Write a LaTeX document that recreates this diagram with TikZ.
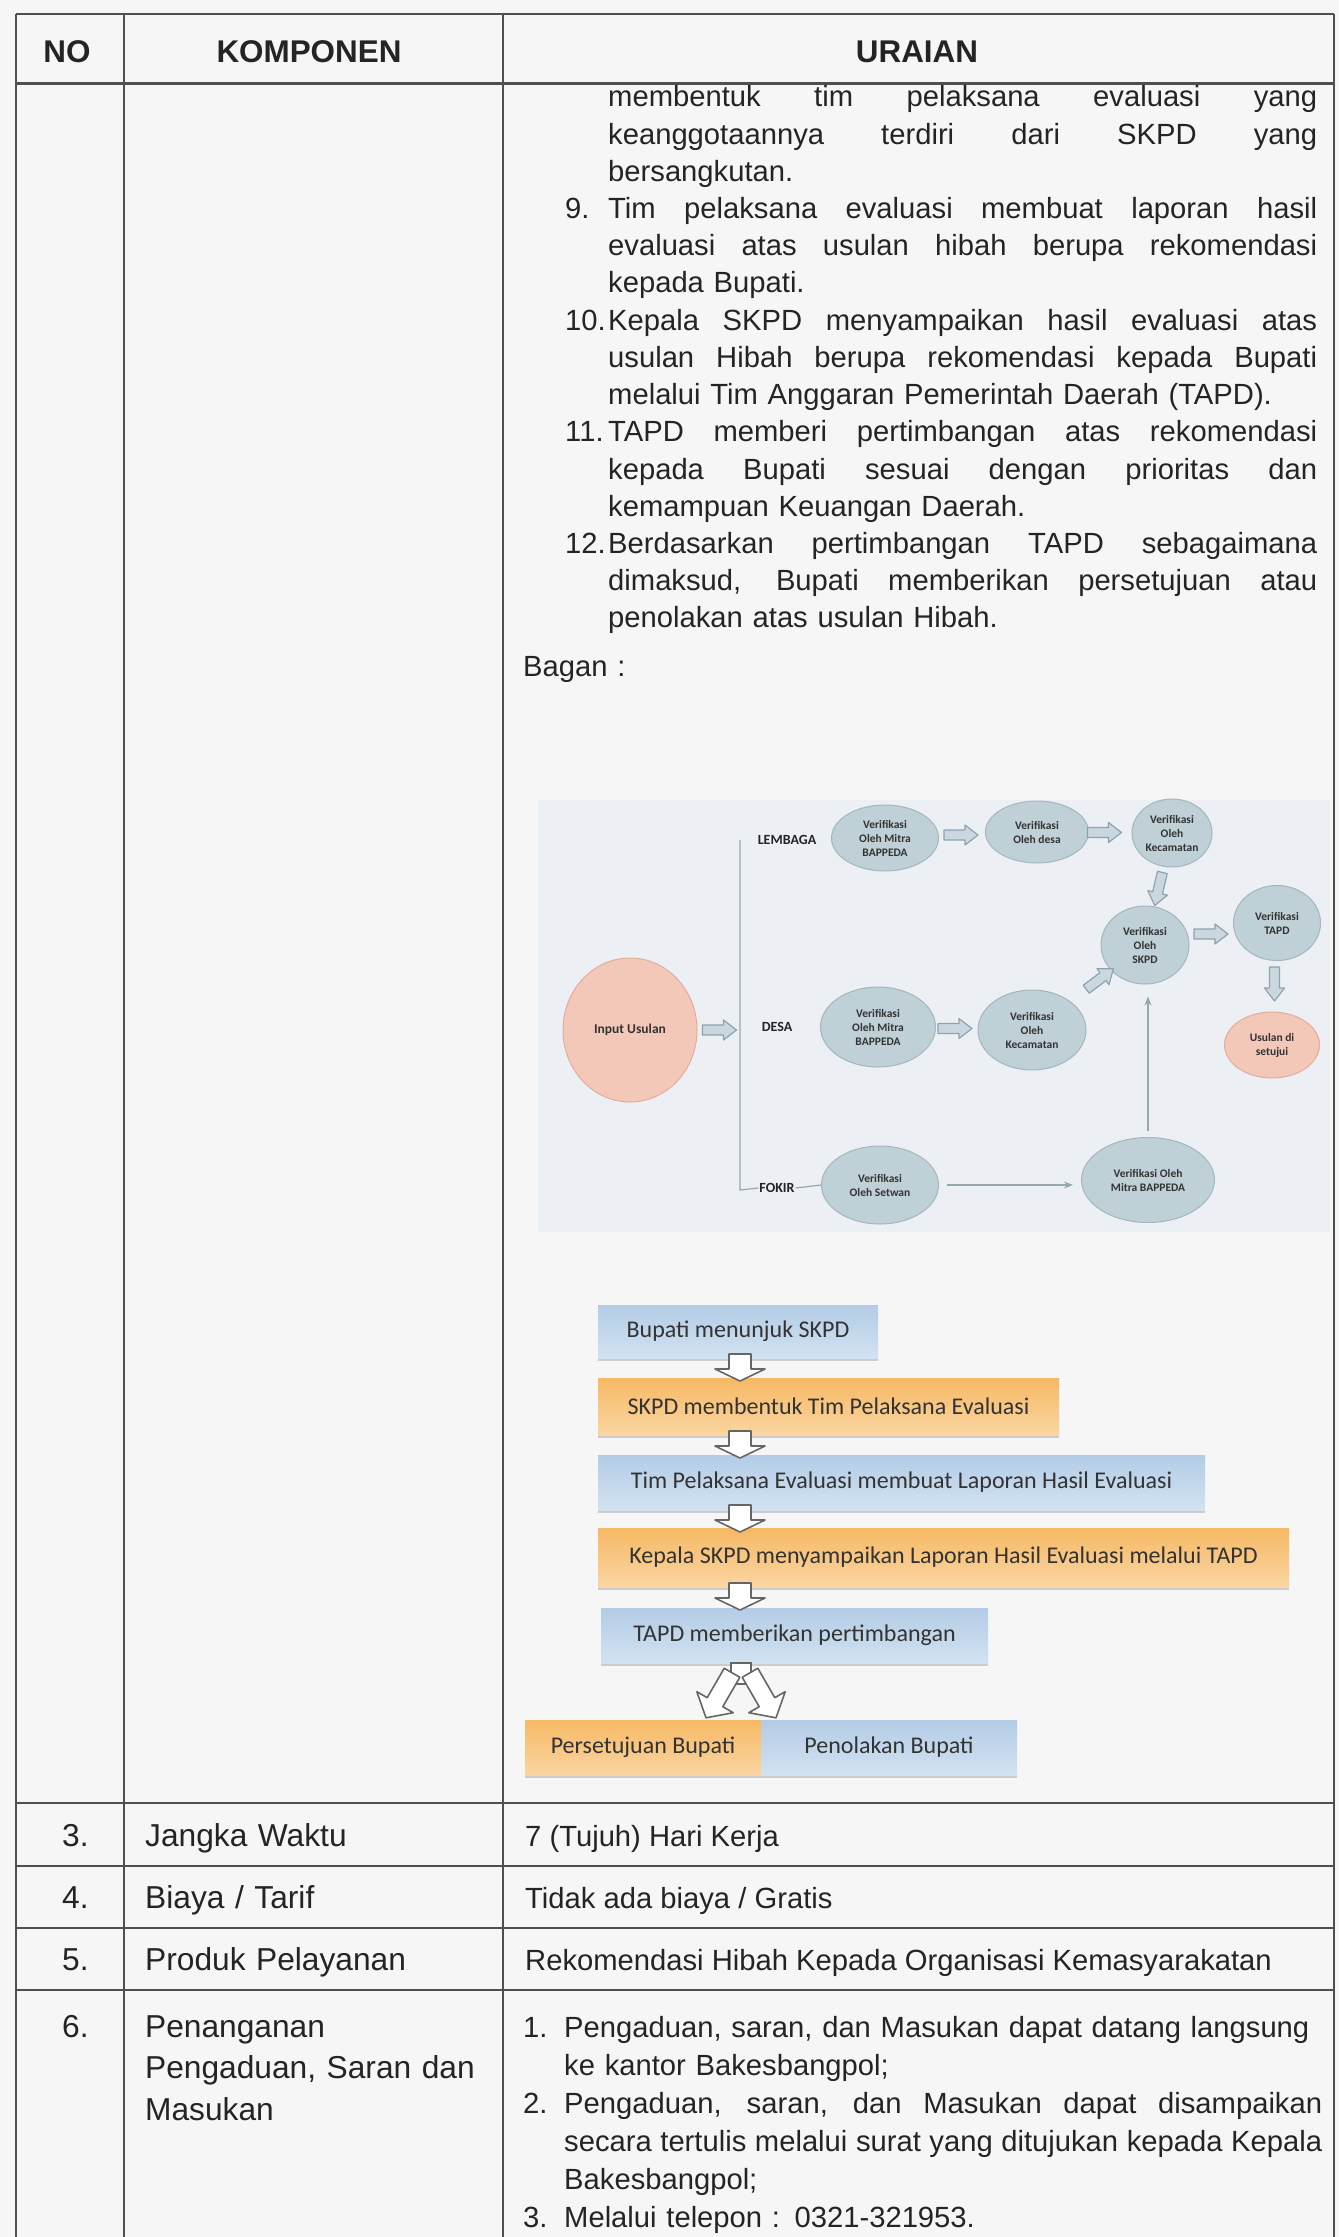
\documentclass[tikz,border=0pt]{standalone}
\usepackage{fontspec}
\setmainfont{Liberation Sans}
\newfontfamily\calibrifont{Carlito}
\usetikzlibrary{shapes.geometric,arrows.meta,calc,shadows}

\definecolor{paper}{HTML}{F6F6F7}
\definecolor{ink}{HTML}{242424}
\definecolor{rulegray}{HTML}{4F4F4F}
\definecolor{chartbg}{HTML}{ECEFF3}
\definecolor{verifill}{HTML}{BFD0D6}
\definecolor{veriline}{HTML}{A3B7BE}
\definecolor{salmon}{HTML}{F4C8B8}
\definecolor{salmonline}{HTML}{E2AE9C}
\definecolor{fatfill}{HTML}{CAD7DE}
\definecolor{fatline}{HTML}{8DA3AF}
\definecolor{wire}{HTML}{98A6AE}
\definecolor{bluetop}{HTML}{B3CCE6}
\definecolor{bluebot}{HTML}{D2E2F1}
\definecolor{orangetop}{HTML}{F6B964}
\definecolor{orangebot}{HTML}{FAD5A2}
\definecolor{boxink}{HTML}{333333}

\newcommand{\hdrfont}{\bfseries\fontsize{31.4}{36}\selectfont}
\newcommand{\leftfont}{\fontsize{31.7}{41.5}\selectfont}
\newcommand{\bodyfont}{\fontsize{29.2}{37.2}\selectfont}
\newcommand{\listfont}{\fontsize{29.2}{38}\selectfont}
\newcommand{\boxtext}{\calibrifont\fontsize{24}{28}\selectfont}
\newcommand{\charttext}{\calibrifont\bfseries\fontsize{11.5}{14}\selectfont}
\newcommand{\jline}[2]{{\spaceskip=0pt\xspaceskip=0pt\makebox[#1][s]{#2}}}

\begin{document}
\begin{tikzpicture}[
  x=1pt,
  y=-1pt,
  rule/.style={draw=rulegray, line width=2.4pt},
  hdr/.style={anchor=base, inner sep=0pt, font=\hdrfont, text=ink},
  para/.style={anchor=base west, inner sep=0pt, align=left, text width=780pt, font=\bodyfont, text=ink},
  list/.style={para, font=\listfont},
  num/.style={anchor=base west, inner sep=0pt, font=\bodyfont, text=ink},
  leftcol/.style={anchor=base west, inner sep=0pt, align=left, text width=350pt, font=\leftfont, text=ink},
  verif/.style={ellipse, fill=verifill, draw=veriline, line width=1pt, inner sep=0pt, align=center, font=\charttext, text=boxink},
  salmonball/.style={verif, fill=salmon, draw=salmonline},
  lbl/.style={inner sep=1pt, font=\calibrifont\bfseries\fontsize{14}{16}\selectfont, text=ink},
  wirearrow/.style={draw=wire, line width=1.4pt, -{Stealth[length=9pt, width=7pt]}},
  stepbox/.style={rectangle, inner sep=0pt, minimum height=55pt, font=\boxtext, text=boxink,
    drop shadow={shadow xshift=0pt, shadow yshift=-3pt, opacity=0.35}},
  bluebox/.style={stepbox, top color=bluetop, bottom color=bluebot},
  orangebox/.style={stepbox, top color=orangetop, bottom color=orangebot},
  fatarrow/.pic={\draw[draw=fatline, fill=fatfill, line width=1.2pt, line join=round]
    (-17,-5) -- (4,-5) -- (4,-10) -- (17,0) -- (4,10) -- (4,5) -- (-17,5) -- cycle;},
  hollowarrow/.pic={\draw[draw=gray!80!black, fill=white, line width=1.6pt, line join=round]
    (-14,-11) -- (1,-11) -- (1,-25) -- (13,0) -- (1,25) -- (1,11) -- (-14,11) -- cycle;},
  splitarrow/.pic={\draw[draw=gray!80!black, fill=white, line width=1.6pt, line join=round]
    (-28,-9) -- (6,-9) -- (6,-21) -- (24,0) -- (6,21) -- (6,9) -- (-28,9) -- cycle;}
]
  \useasboundingbox (0,0) rectangle (1339,2237);
  \fill[paper] (0,0) rectangle (1339,2237);

  % table frame
  \draw[rule] (16,14) -- (1334,14);
  \draw[rule, line width=3pt] (16,84) -- (1334,84);
  \foreach \yy in {1803,1866,1928,1990}
    \draw[rule] (16,\yy) -- (1334,\yy);
  \foreach \xx in {16,124,503,1334}
    \draw[rule, line width=2.2pt] (\xx,14) -- (\xx,2237);

  % header
  \node[hdr] (hNo) at (67,63) {NO};
  \node[hdr] (hKomponen) at (309,63) {KOMPONEN};
  \node[hdr] (hUraian) at (917,63) {URAIAN};

  % steps 8 - 12
  \node[para] (t8) at (608,107) {\jline{709pt}{membentuk tim pelaksana evaluasi yang}\\\jline{709pt}{keanggotaannya terdiri dari SKPD yang}\\bersangkutan.};
  \node[num] (n9) at (565,218.6) {9.};
  \node[para] (t9) at (608,218.6) {\jline{709pt}{Tim pelaksana evaluasi membuat laporan hasil}\\\jline{709pt}{evaluasi atas usulan hibah berupa rekomendasi}\\kepada Bupati.};
  \node[num] (n10) at (565,330.2) {10.};
  \node[para] (t10) at (608,330.2) {\jline{709pt}{Kepala SKPD menyampaikan hasil evaluasi atas}\\\jline{709pt}{usulan Hibah berupa rekomendasi kepada Bupati}\\melalui Tim Anggaran Pemerintah Daerah (TAPD).};
  \node[num] (n11) at (565,441.8) {11.};
  \node[para] (t11) at (608,441.8) {\jline{709pt}{TAPD memberi pertimbangan atas rekomendasi}\\\jline{709pt}{kepada Bupati sesuai dengan prioritas dan}\\kemampuan Keuangan Daerah.};
  \node[num] (n12) at (565,553.4) {12.};
  \node[para] (t12) at (608,553.4) {\jline{709pt}{Berdasarkan pertimbangan TAPD sebagaimana}\\\jline{709pt}{dimaksud, Bupati memberikan persetujuan atau}\\penolakan atas usulan Hibah.};
  \node[para] (bagan) at (523,676) {Bagan :};

  % bagan 1: alur verifikasi
  \fill[chartbg] (538,800) rectangle (1330,1232);
  \node[salmonball, minimum width=134pt, minimum height=144pt, font=\calibrifont\bfseries\fontsize{13.5}{16}\selectfont] (input) at (630,1030) {Input Usulan};
  \node[lbl] (lblLembaga) at (787,840) {LEMBAGA};
  \node[lbl] (lblDesa) at (777,1027) {DESA};
  \node[lbl] (lblFokir) at (777,1188) {FOKIR};

  \node[verif, minimum width=107pt, minimum height=66pt] (lm1) at (885,838) {Verifikasi\\Oleh Mitra\\BAPPEDA};
  \node[verif, minimum width=103pt, minimum height=62pt] (lm2) at (1037,832) {Verifikasi\\Oleh desa};
  \node[verif, minimum width=80pt, minimum height=68pt] (lm3) at (1172,833) {Verifikasi\\Oleh\\Kecamatan};
  \node[verif, minimum width=88pt, minimum height=78pt] (skpd) at (1145,945) {Verifikasi\\Oleh\\SKPD};
  \node[verif, minimum width=87pt, minimum height=75pt] (tapd) at (1277,923) {Verifikasi\\TAPD};
  \node[salmonball, minimum width=95pt, minimum height=66pt] (acc) at (1272,1045) {Usulan di\\setujui};
  \node[verif, minimum width=115pt, minimum height=80pt] (ds1) at (878,1027) {Verifikasi\\Oleh Mitra\\BAPPEDA};
  \node[verif, minimum width=108pt, minimum height=80pt] (ds2) at (1032,1030) {Verifikasi\\Oleh\\Kecamatan};
  \node[verif, minimum width=117pt, minimum height=78pt] (fk1) at (880,1185) {Verifikasi\\Oleh Setwan};
  \node[verif, minimum width=133pt, minimum height=85pt] (fk2) at (1148,1180) {Verifikasi Oleh\\Mitra BAPPEDA};

  \coordinate (busTop) at (740,840);
  \coordinate (busBot) at (740,1190);
  \draw[draw=wire, line width=1.2pt] (busTop) -- (busBot) -- (lblFokir.west);
  \draw[draw=wire, line width=1.2pt] (lblFokir.east) -- (fk1.west);

  \pic at ($(input.east)+(22,0)$) {fatarrow};
  \pic at ($(lm1)!0.5!(lm2)$) {fatarrow};
  \pic at ($(lm2)!0.5!(lm3)$) {fatarrow};
  \pic[rotate=-103] at ($(lm3)!0.5!(skpd)$) {fatarrow};
  \pic at ($(ds1)!0.5!(ds2)$) {fatarrow};
  \pic[rotate=37] at ($(ds2)!0.6!(skpd)$) {fatarrow};
  \pic at ($(skpd)!0.5!(tapd)$) {fatarrow};
  \pic[rotate=-90] at ($(tapd)!0.5!(acc)$) {fatarrow};

  \draw[wirearrow, shorten <=8pt, shorten >=8pt] (fk1.east) -- (fk1.east -| fk2.west);
  \draw[wirearrow, shorten <=6pt, shorten >=12pt] (fk2.north) -- (fk2.north |- skpd.south);

  % bagan 2: alur evaluasi
  \node[bluebox, minimum width=280pt, minimum height=53pt] (b1) at (738,1331.5) {Bupati menunjuk SKPD};
  \node[orangebox, minimum width=461pt, minimum height=57pt] (b2) at (828.5,1406.5) {SKPD membentuk Tim Pelaksana Evaluasi};
  \node[bluebox, minimum width=607pt] (b3) at (901.5,1482.5) {Tim Pelaksana Evaluasi membuat Laporan Hasil Evaluasi};
  \node[orangebox, minimum width=691pt, minimum height=59pt] (b4) at (943.5,1557.5) {Kepala SKPD menyampaikan Laporan Hasil Evaluasi melalui TAPD};
  \node[bluebox, minimum width=387pt] (b5) at (794.5,1635.5) {TAPD memberikan pertimbangan};
  \node[orangebox, minimum width=236pt] (b6a) at (643,1747.5) {Persetujuan Bupati};
  \node[bluebox, minimum width=256pt] (b6b) at (889,1747.5) {Penolakan Bupati};

  \pic[rotate=-90] at (740,1368) {hollowarrow};
  \pic[rotate=-90] at (740,1445) {hollowarrow};
  \pic[rotate=-90] at (740,1519) {hollowarrow};
  \pic[rotate=-90] at (740,1597) {hollowarrow};
  \draw[draw=gray!80!black, fill=white, line width=1.6pt] (731,1663) rectangle (751,1684);
  \pic[rotate=-120] at (718,1697) {splitarrow};
  \pic[rotate=-60] at (764,1697) {splitarrow};

  % rows 3 - 6
  \node[leftcol] (n3) at (62,1846) {3.};
  \node[leftcol] (k3) at (145,1846) {Jangka Waktu};
  \node[num] (u3) at (525,1846) {7 (Tujuh) Hari Kerja};
  \node[leftcol] (n4) at (62,1908) {4.};
  \node[leftcol] (k4) at (145,1908) {Biaya / Tarif};
  \node[num] (u4) at (525,1908) {Tidak ada biaya / Gratis};
  \node[leftcol] (n5) at (62,1970) {5.};
  \node[leftcol] (k5) at (145,1970) {Produk Pelayanan};
  \node[num] (u5) at (525,1970) {Rekomendasi Hibah Kepada Organisasi Kemasyarakatan};
  \node[leftcol] (n6) at (62,2037) {6.};
  \node[leftcol] (k6) at (145,2037) {Penanganan\\Pengaduan, Saran dan\\Masukan};
  \node[num] (l1) at (523,2037) {1.};
  \node[list] (i1) at (564,2037) {Pengaduan, saran, dan Masukan dapat datang langsung\\ke kantor Bakesbangpol;};
  \node[num] (l2) at (523,2113) {2.};
  \node[list] (i2) at (564,2113) {\jline{758pt}{Pengaduan, saran, dan Masukan dapat disampaikan}\\\jline{758pt}{secara tertulis melalui surat yang ditujukan kepada Kepala}\\Bakesbangpol;};
  \node[num] (l3) at (523,2227) {3.};
  \node[list] (i3) at (564,2227) {Melalui telepon : 0321-321953.};
\end{tikzpicture}
\end{document}
